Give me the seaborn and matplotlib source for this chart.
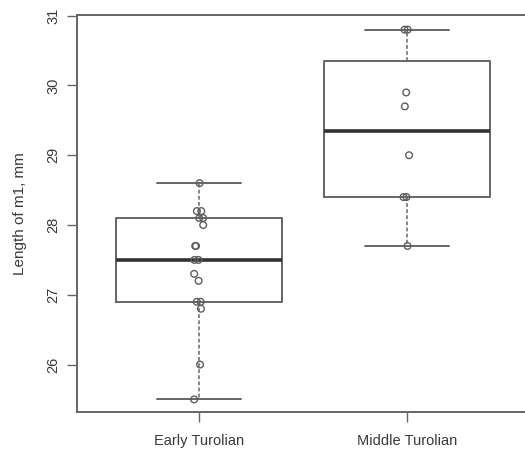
import numpy as np
import pandas as pd
import matplotlib
matplotlib.use("Agg")
import matplotlib.pyplot as plt
import seaborn as sns

# data
groups = ["Early Turolian", "Middle Turolian"]
early = [28.6, 28.2, 28.2, 28.1, 28.1, 28.0, 27.7, 27.7, 27.5, 27.5,
         27.3, 27.2, 26.9, 26.9, 26.8, 26.0, 25.5]
middle = [30.8, 30.8, 29.9, 29.7, 29.0, 28.4, 28.4, 27.7]
yticks = [26, 27, 28, 29, 30, 31]

df = pd.DataFrame({
    "period": [groups[0]] * len(early) + [groups[1]] * len(middle),
    "length": early + middle,
})


def fivenum_stats(vals, label):
    # Tukey hinges like R's boxplot.stats
    x = np.sort(np.asarray(vals, dtype=float))
    n = len(x)
    n4 = np.floor((n + 3) / 2) / 2
    d = np.array([1, n4, (n + 1) / 2, n + 1 - n4, n]) - 1
    q = 0.5 * (x[np.floor(d).astype(int)] + x[np.ceil(d).astype(int)])
    iqr = q[3] - q[1]
    lo = x[x >= q[1] - 1.5 * iqr].min()
    hi = x[x <= q[3] + 1.5 * iqr].max()
    return {"med": q[2], "q1": q[1], "q3": q[3], "whislo": lo, "whishi": hi,
            "fliers": [], "label": label}


sns.set_style("ticks")
plt.rcParams["font.family"] = ["Liberation Sans", "DejaVu Sans"]

fig = plt.figure(figsize=(5.25, 4.51), dpi=100)
ax = fig.add_axes([77 / 525, 1 - 412 / 451, 1 - 77 / 525, (412 - 15) / 451])

line_col = "#666666"
text_col = "#3a3a3a"
stats = [fivenum_stats(early, groups[0]), fivenum_stats(middle, groups[1])]
ax.bxp(stats, positions=[0, 1], widths=0.8, showfliers=False,
       manage_ticks=False, patch_artist=False,
       boxprops=dict(color=line_col, linewidth=1.4),
       medianprops=dict(color="#333333", linewidth=2.6),
       whiskerprops=dict(color=line_col, linewidth=1.1, linestyle=(0, (2.5, 1.5))),
       capprops=dict(color=line_col, linewidth=1.4))

np.random.seed(3)
sns.stripplot(data=df, x="period", y="length", order=groups, jitter=0.025,
              size=4.8, linewidth=1.0, ax=ax, zorder=5)
for coll in ax.collections:
    coll.set_facecolor("none")
    coll.set_edgecolor("#5e5e5e")

ax.set_xlim(-0.587, 1.567)
ax.set_ylim(25.32, 31.01)
ax.set_yticks(yticks)
ax.set_yticklabels([str(t) for t in yticks], rotation=90, va="center")
ax.set_xticks([0, 1])
ax.set_xticklabels(groups)
ax.set_xlabel("")
ax.set_ylabel("Length of m1, mm", fontsize=11, color=text_col)
ax.yaxis.set_label_coords(-0.112, 0.5)
ax.tick_params(axis="both", length=7, width=1, color=line_col,
               labelcolor=text_col)
ax.tick_params(axis="x", labelsize=10.5, pad=9)
ax.tick_params(axis="y", labelsize=10.5, pad=5)
for side in ["left", "top", "bottom"]:
    ax.spines[side].set_color(line_col)
    ax.spines[side].set_linewidth(1.4)
ax.spines["right"].set_visible(False)

fig.savefig("out.png", dpi=100)
